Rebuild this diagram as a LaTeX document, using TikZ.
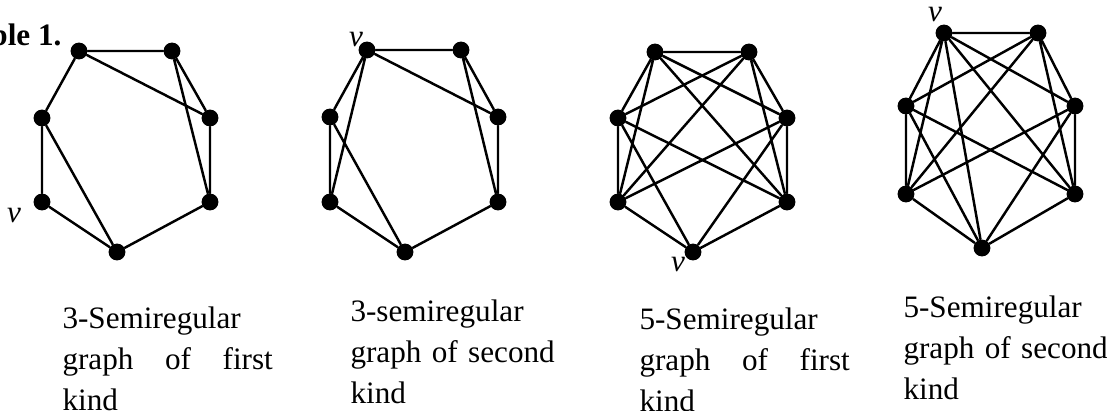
\documentclass[tikz,border=0pt]{standalone}
\usepackage{fontspec}
\setmainfont{Liberation Serif}
\tikzset{
  vtx/.style={circle,fill=black,inner sep=0pt,minimum size=6.5pt},
  edg/.style={line width=.95pt,line cap=round},
  vLab/.style={font=\fontsize{12}{15}\selectfont\itshape,inner sep=0pt},
  capText/.style={font=\fontsize{12}{15.8}\selectfont,align=left,text width=81pt,
        inner sep=0pt,anchor=base west},
}

\begin{document}
\begin{tikzpicture}[x=.385pt,y=-.385pt]
\useasboundingbox (0,0) rectangle (1107,410);
\node[font=\fontsize{12}{15}\selectfont\bfseries,inner sep=0pt,anchor=base east] (tab) at (62,45) {ble 1.};
% 3-semiregular, first kind
\node[vtx] (a1) at (79,51) {};
\node[vtx] (a2) at (172,51) {};
\node[vtx] (a3) at (210,118) {};
\node[vtx] (a4) at (210,202) {};
\node[vtx] (a5) at (117,252) {};
\node[vtx] (a6) at (42,202) {};
\node[vtx] (a7) at (42,118) {};
\node[vLab] (va) at (14,215) {v};
\draw[edg] (a1) -- (a2) (a1) -- (a7) (a1) -- (a3);
\draw[edg] (a2) -- (a3) (a2) -- (a4) (a3) -- (a4);
\draw[edg] (a4) -- (a5) (a5) -- (a6) (a6) -- (a7) (a7) -- (a5);
% 3-semiregular, second kind
\node[vtx] (b1) at (367,50) {};
\node[vtx] (b2) at (461,50) {};
\node[vtx] (b3) at (498,117) {};
\node[vtx] (b4) at (498,202) {};
\node[vtx] (b5) at (405,252) {};
\node[vtx] (b6) at (330,202) {};
\node[vtx] (b7) at (330,117) {};
\node[vLab] (vb) at (356,39) {v};
\draw[edg] (b1) -- (b2) (b1) -- (b7) (b1) -- (b6) (b1) -- (b3);
\draw[edg] (b2) -- (b3) (b2) -- (b4) (b3) -- (b4);
\draw[edg] (b4) -- (b5) (b5) -- (b6) (b6) -- (b7) (b7) -- (b5);
% 5-semiregular, first kind
\node[vtx] (c1) at (655,52) {};
\node[vtx] (c2) at (749,52) {};
\node[vtx] (c3) at (787,118) {};
\node[vtx] (c4) at (787,202) {};
\node[vtx] (c5) at (693,252) {};
\node[vtx] (c6) at (618,202) {};
\node[vtx] (c7) at (618,118) {};
\node[vLab] (vc) at (678,264) {v};
\draw[edg] (c1) -- (c2) (c1) -- (c3) (c1) -- (c4) (c1) -- (c6) (c1) -- (c7);
\draw[edg] (c2) -- (c3) (c2) -- (c4) (c2) -- (c6) (c2) -- (c7);
\draw[edg] (c3) -- (c4) (c3) -- (c5) (c3) -- (c6);
\draw[edg] (c4) -- (c5) (c4) -- (c7) (c5) -- (c6) (c5) -- (c7) (c6) -- (c7);
% 5-semiregular, second kind
\node[vtx] (d1) at (944,33) {};
\node[vtx] (d2) at (1038,33) {};
\node[vtx] (d3) at (1075,106) {};
\node[vtx] (d4) at (1075,194) {};
\node[vtx] (d5) at (982,248) {};
\node[vtx] (d6) at (906,194) {};
\node[vtx] (d7) at (906,106) {};
\node[vLab] (vd) at (935,14) {v};
\draw[edg] (d1) -- (d2) (d1) -- (d3) (d1) -- (d4) (d1) -- (d5) (d1) -- (d6) (d1) -- (d7);
\draw[edg] (d2) -- (d3) (d2) -- (d4) (d2) -- (d6) (d2) -- (d7);
\draw[edg] (d3) -- (d4) (d3) -- (d5) (d3) -- (d6);
\draw[edg] (d4) -- (d5) (d4) -- (d7) (d5) -- (d6) (d5) -- (d7) (d6) -- (d7);
% captions
\node[capText] (capa) at (62,328) {3-Semiregular\\graph\hfill of\hfill first\\kind};
\node[capText] (capb) at (350,321) {3-semiregular\\graph of second\\kind};
\node[capText] (capc) at (639,329) {5-Semiregular\\graph\hfill of\hfill first\\kind};
\node[capText] (capd) at (903,317) {5-Semiregular\\graph of second\\kind};
\end{tikzpicture}
\end{document}
